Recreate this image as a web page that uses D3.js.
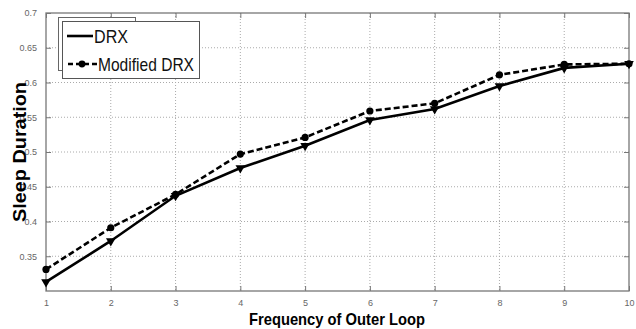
<!DOCTYPE html>
<html><head><meta charset="utf-8">
<script src="https://cdn.jsdelivr.net/npm/d3@7"></script>
<style>body{margin:0;background:#fff}svg{display:block}</style>
</head><body>
<script>
const xValues = [1,2,3,4,5,6,7,8,9,10];
const drx = [0.313,0.372,0.437,0.477,0.509,0.546,0.562,0.595,0.621,0.627];
const modifiedDrx = [0.331,0.391,0.439,0.497,0.521,0.559,0.570,0.611,0.626,0.627];
const yTicks = [0.35,0.4,0.45,0.5,0.55,0.6,0.65,0.7];
const yTickLabels = ["0.35","0.4","0.45","0.5","0.55","0.6","0.65","0.7"];
const xTickLabels = ["1","2","3","4","5","6","7","8","9","10"];
const seriesNames = ["DRX","Modified DRX"];

const W=636,H=329;
const L=46,R=629,T=13,B=291;
const svg=d3.select("body").append("svg").attr("width",W).attr("height",H);
const x=d3.scaleLinear().domain([1,10]).range([L,R]);
const y=d3.scaleLinear().domain([0.3,0.7]).range([B,T]);

// grid
const g=svg.append("g");
g.selectAll(".gx").data(xValues.slice(1,-1)).enter().append("line")
 .attr("x1",d=>x(d)).attr("x2",d=>x(d)).attr("y1",T).attr("y2",B)
 .attr("stroke","#aaa").attr("stroke-width",1).attr("stroke-dasharray","1,2");
g.selectAll(".gy").data(yTicks.slice(0,-1)).enter().append("line")
 .attr("x1",L).attr("x2",R).attr("y1",d=>y(d)).attr("y2",d=>y(d))
 .attr("stroke","#aaa").attr("stroke-width",1).attr("stroke-dasharray","1,2");

// frame
svg.append("rect").attr("x",L).attr("y",T).attr("width",R-L).attr("height",B-T)
 .attr("fill","none").attr("stroke","#777").attr("stroke-width",1.3);

// axes
const yAxis=d3.axisLeft(y).tickValues(yTicks).tickFormat((d,i)=>yTickLabels[i]).tickSizeInner(-5).tickSizeOuter(0).tickPadding(9);
const ya=svg.append("g").attr("transform",`translate(${L},0)`).call(yAxis);
const yAxisR=d3.axisRight(y).tickValues(yTicks).tickFormat("").tickSizeInner(-5).tickSizeOuter(0);
const yr=svg.append("g").attr("transform",`translate(${R},0)`).call(yAxisR);
const xAxis=d3.axisBottom(x).tickValues(xValues).tickFormat((d,i)=>xTickLabels[i]).tickSizeInner(-5).tickSizeOuter(0).tickPadding(9);
const xa=svg.append("g").attr("transform",`translate(0,${B})`).call(xAxis);
const xAxisT=d3.axisTop(x).tickValues(xValues).tickFormat("").tickSizeInner(-5).tickSizeOuter(0);
const xt=svg.append("g").attr("transform",`translate(0,${T})`).call(xAxisT);
[ya,yr,xa,xt].forEach(a=>{
  a.select(".domain").remove();
  a.selectAll(".tick line").attr("stroke","#777");
  a.selectAll("text").attr("fill","#666").style("font-family","'Liberation Sans Narrow','Liberation Sans',Arial,sans-serif").style("font-size","9px");
});

// lines
const line=d3.line().x((d,i)=>x(xValues[i])).y(d=>y(d));
svg.append("path").datum(drx).attr("d",line).attr("fill","none").attr("stroke","#000").attr("stroke-width",2.6);
svg.append("path").datum(modifiedDrx).attr("d",line).attr("fill","none").attr("stroke","#000").attr("stroke-width",2.6).attr("stroke-dasharray","6,3");

const tri=d3.symbol().type(d3.symbolTriangle).size(40);
svg.selectAll(".m1").data(drx).enter().append("path")
 .attr("d",tri).attr("transform",(d,i)=>`translate(${x(xValues[i])},${y(d)}) rotate(180)`).attr("fill","#000");
svg.selectAll(".m2").data(modifiedDrx).enter().append("circle")
 .attr("cx",(d,i)=>x(xValues[i])).attr("cy",d=>y(d)).attr("r",3.6).attr("fill","#000");

// legend (with ghost box)
svg.append("rect").attr("x",58.5).attr("y",17.5).attr("width",77).attr("height",53).attr("fill","#fff").attr("stroke","#666");
svg.append("rect").attr("x",62.5).attr("y",21.5).attr("width",137).attr("height",57).attr("fill","#fff").attr("stroke","#555");
svg.append("line").attr("x1",67).attr("x2",93).attr("y1",36).attr("y2",36).attr("stroke","#000").attr("stroke-width",2.6);
svg.append("line").attr("x1",68).attr("x2",97).attr("y1",64).attr("y2",64).attr("stroke","#000").attr("stroke-width",2.6).attr("stroke-dasharray","5,3");
svg.append("circle").attr("cx",82).attr("cy",64).attr("r",3.4).attr("fill","#000");
const lf="'Liberation Sans',Arial,sans-serif";
svg.append("text").attr("x",94).attr("y",43).text(seriesNames[0]).attr("textLength",34).attr("lengthAdjust","spacingAndGlyphs")
 .style("font-family",lf).style("font-size","19px").attr("fill","#111");
svg.append("text").attr("x",98).attr("y",71).text(seriesNames[1]).attr("textLength",96).attr("lengthAdjust","spacingAndGlyphs")
 .style("font-family",lf).style("font-size","19px").attr("fill","#111");

// axis titles
svg.append("text").attr("x",337).attr("y",325).attr("text-anchor","middle")
 .attr("textLength",176).attr("lengthAdjust","spacingAndGlyphs")
 .style("font-family",lf).style("font-weight","bold").style("font-size","17px").text("Frequency of Outer Loop");
svg.append("text").attr("transform","translate(26,152) rotate(-90)").attr("text-anchor","middle")
 .attr("textLength",140).attr("lengthAdjust","spacingAndGlyphs")
 .style("font-family",lf).style("font-weight","bold").style("font-size","18px").text("Sleep Duration");
</script>
</body></html>
